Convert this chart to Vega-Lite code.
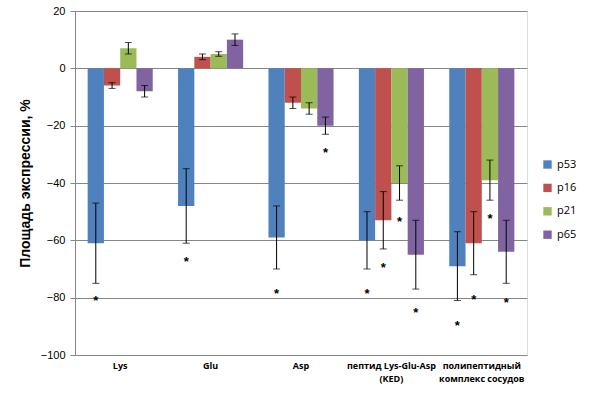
{
  "$schema": "https://vega.github.io/schema/vega-lite/v6.json",
  "autosize": "none",
  "padding": {"left": 75, "top": 11, "right": 66, "bottom": 46},
  "width": 452,
  "height": 344,
  "background": "white",
  "data": {
    "values": [
      {"group": "Lys", "series": "p53", "value": -61, "lo": -75, "hi": -47, "star": -80},
      {"group": "Lys", "series": "p16", "value": -6, "lo": -7, "hi": -5, "star": null},
      {"group": "Lys", "series": "p21", "value": 7, "lo": 5, "hi": 9, "star": null},
      {"group": "Lys", "series": "p65", "value": -8, "lo": -10, "hi": -6, "star": null},
      {"group": "Glu", "series": "p53", "value": -48, "lo": -61, "hi": -35, "star": -66.5},
      {"group": "Glu", "series": "p16", "value": 4, "lo": 3, "hi": 5, "star": null},
      {"group": "Glu", "series": "p21", "value": 5, "lo": 4.2, "hi": 5.8, "star": null},
      {"group": "Glu", "series": "p65", "value": 10, "lo": 8, "hi": 12, "star": null},
      {"group": "Asp", "series": "p53", "value": -59, "lo": -70, "hi": -48, "star": -77.6},
      {"group": "Asp", "series": "p16", "value": -12, "lo": -14, "hi": -10, "star": null},
      {"group": "Asp", "series": "p21", "value": -14, "lo": -16, "hi": -12, "star": null},
      {"group": "Asp", "series": "p65", "value": -20, "lo": -23, "hi": -17, "star": -28.6},
      {"group": "пептид Lys-Glu-Asp|(KED)", "series": "p53", "value": -60, "lo": -70, "hi": -50, "star": -77.7},
      {"group": "пептид Lys-Glu-Asp|(KED)", "series": "p16", "value": -53, "lo": -63, "hi": -43, "star": -68.5},
      {"group": "пептид Lys-Glu-Asp|(KED)", "series": "p21", "value": -40, "lo": -46, "hi": -34, "star": -52.5},
      {"group": "пептид Lys-Glu-Asp|(KED)", "series": "p65", "value": -65, "lo": -77, "hi": -53, "star": -84.2},
      {"group": "полипептидный|комплекс сосудов", "series": "p53", "value": -69, "lo": -81, "hi": -57, "star": -89},
      {"group": "полипептидный|комплекс сосудов", "series": "p16", "value": -61, "lo": -72, "hi": -50, "star": -79.7},
      {"group": "полипептидный|комплекс сосудов", "series": "p21", "value": -39, "lo": -46, "hi": -32, "star": -51.6},
      {"group": "полипептидный|комплекс сосудов", "series": "p65", "value": -64, "lo": -75, "hi": -53, "star": -80.8}
    ]
  },
  "encoding": {
    "x": {
      "field": "group",
      "type": "nominal",
      "sort": null,
      "scale": {"paddingInner": 0.28, "paddingOuter": 0.14},
      "axis": {
        "title": null,
        "labelAngle": 0,
        "labelExpr": "split(datum.label, '|')",
        "labelFont": "Open Sans",
        "labelFontSize": 9,
        "labelFontWeight": "bold",
        "labelColor": "black",
        "labelLineHeight": 13,
        "labelPadding": 6,
        "domain": false,
        "ticks": false,
        "grid": false
      }
    },
    "xOffset": {"field": "series", "type": "nominal", "sort": ["p53", "p16", "p21", "p65"], "scale": {"paddingInner": 0}}
  },
  "layer": [
    {
      "mark": {"type": "bar"},
      "encoding": {
        "y": {
          "field": "value",
          "type": "quantitative",
          "scale": {"domain": [-100, 20], "nice": false, "zero": false},
          "axis": {
            "title": "Площадь экспрессии, %",
            "values": [-100, -80, -60, -40, -20, 0, 20],
            "titleFont": "Liberation Sans",
            "titleFontSize": 14,
            "titleFontWeight": "bold",
            "titleColor": "black",
            "titlePadding": 8,
            "labelFont": "Liberation Sans",
            "labelFontSize": 11,
            "labelColor": "black",
            "labelPadding": 5,
            "tickSize": 5,
            "tickColor": "#868686",
            "domainColor": "#868686",
            "gridColor": "#868686",
            "gridOpacity": 1
          }
        },
        "y2": {"datum": 0},
        "color": {
          "field": "series",
          "type": "nominal",
          "sort": ["p53", "p16", "p21", "p65"],
          "scale": {"domain": ["p53", "p16", "p21", "p65"], "range": ["#4F81BD", "#C0504D", "#9BBB59", "#8064A2"]},
          "legend": {
            "title": null,
            "orient": "none",
            "legendX": 467,
            "legendY": 148,
            "symbolType": "square",
            "symbolSize": 70,
            "symbolStrokeWidth": 0,
            "labelFont": "Open Sans",
            "labelFontSize": 11,
            "labelColor": "black",
            "rowPadding": 11.4,
            "padding": 0
          }
        }
      }
    },
    {
      "mark": {"type": "rule", "color": "black", "strokeWidth": 1},
      "encoding": {
        "y": {"field": "lo", "type": "quantitative"},
        "y2": {"field": "hi"}
      }
    },
    {
      "mark": {"type": "tick", "color": "black", "size": 7, "thickness": 1},
      "encoding": {"y": {"field": "lo", "type": "quantitative"}}
    },
    {
      "mark": {"type": "tick", "color": "black", "size": 7, "thickness": 1},
      "encoding": {"y": {"field": "hi", "type": "quantitative"}}
    },
    {
      "transform": [{"filter": "datum.star != null"}],
      "mark": {"type": "text", "text": "*", "font": "Liberation Sans", "fontSize": 13, "fontWeight": "bold", "color": "black", "baseline": "middle", "dy": 3},
      "encoding": {"y": {"field": "star", "type": "quantitative"}}
    }
  ]
}
